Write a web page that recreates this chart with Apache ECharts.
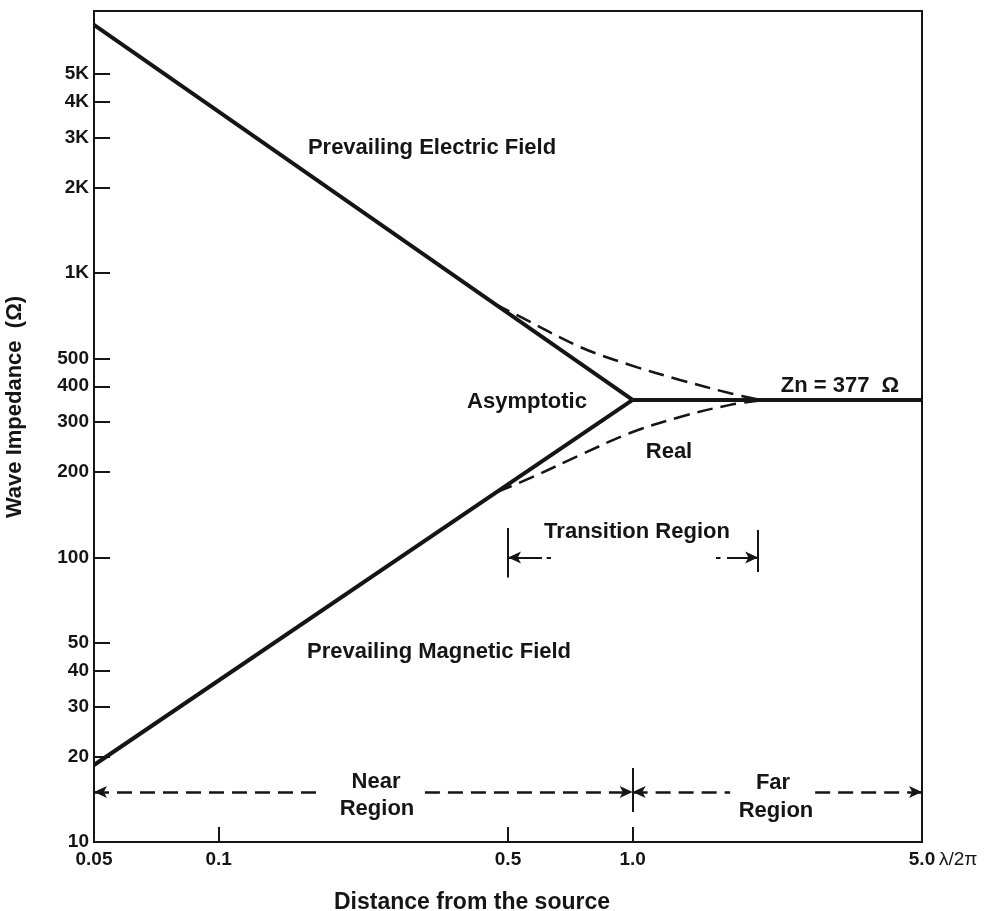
<!DOCTYPE html>
<html><head><meta charset="utf-8">
<script src="https://cdn.jsdelivr.net/npm/echarts@6/dist/echarts.min.js"></script>
<style>html,body{margin:0;padding:0;background:#fff}#c{width:990px;height:911px}</style>
</head><body><div id="c"></div>
<script>
// ---- axis ticks / labels ----
const xTickValues = [0.05, 0.1, 0.5, 1.0, 5.0];
const xTickLabels = ['0.05', '0.1', '0.5', '1.0', '5.0'];
const xTickMarks = [0.1, 0.5, 1.0];
const yTickValues = [10, 20, 30, 40, 50, 100, 200, 300, 400, 500, 1000, 2000, 3000, 4000, 5000];
const yTickLabels = ['10', '20', '30', '40', '50', '100', '200', '300', '400', '500', '1K', '2K', '3K', '4K', '5K'];
const yTickMarks = [20, 30, 40, 50, 100, 200, 300, 400, 500, 1000, 2000, 3000, 4000, 5000];

// ---- series (x = distance in λ/2π, y = wave impedance in Ω) ----
const electricAsymptote = [[0.05, 7450], [1.0, 358]];
const magneticAsymptote = [[0.05, 18.65], [1.0, 358]];
const farFieldImpedance = [[1.0, 358], [5.0, 358]];
const realElectric = [[0.465, 778], [0.526, 711], [0.746, 550], [0.986, 475], [1.302, 421], [1.72, 378], [2.03, 358]];
const realMagnetic = [[0.47, 170], [0.565, 190], [0.746, 229], [0.986, 274], [1.302, 312], [1.72, 344], [2.09, 358]];

// ---- annotation anchors (data coordinates) ----
const regionArrowY = 15;
const nearSegments = [[0.05, 0.176], [0.315, 1.0]];
const farSegments = [[1.0, 1.72], [2.76, 5.0]];
const regionDivider = [1.0, 12.75, 18.2];
const transitionBars = [[0.5, 85, 127], [2.01, 89, 125]];
const transitionArrowY = 100;
const transitionLeft = [[0.5, 0.604], [0.62, 0.635]];
const transitionRight = [[1.59, 1.63], [1.69, 2.01]];

function lookup(vals, labels) {
  return function (v) {
    for (let i = 0; i < vals.length; i++) {
      if (Math.abs(Math.log10(v) - Math.log10(vals[i])) < 1e-6) return labels[i];
    }
    return '';
  };
}

const INK = '#151515';
const dashedStyle = { color: INK, width: 2.5, type: [15, 8] };
const solidThin = { color: INK, width: 2, type: 'solid' };

function seg(a, b, s1, s2, style) {
  return [
    { coord: a, symbol: s1, lineStyle: style },
    { coord: b, symbol: s2, lineStyle: style }
  ];
}

const markData = [
  seg([nearSegments[0][0], regionArrowY], [nearSegments[0][1], regionArrowY], 'arrow', 'none', dashedStyle),
  seg([nearSegments[1][0], regionArrowY], [nearSegments[1][1], regionArrowY], 'none', 'arrow', dashedStyle),
  seg([farSegments[0][0], regionArrowY], [farSegments[0][1], regionArrowY], 'arrow', 'none', dashedStyle),
  seg([farSegments[1][0], regionArrowY], [farSegments[1][1], regionArrowY], 'none', 'arrow', dashedStyle),
  seg([regionDivider[0], regionDivider[1]], [regionDivider[0], regionDivider[2]], 'none', 'none', solidThin),
  seg([transitionBars[0][0], transitionBars[0][1]], [transitionBars[0][0], transitionBars[0][2]], 'none', 'none', solidThin),
  seg([transitionBars[1][0], transitionBars[1][1]], [transitionBars[1][0], transitionBars[1][2]], 'none', 'none', solidThin),
  seg([transitionLeft[0][0], transitionArrowY], [transitionLeft[0][1], transitionArrowY], 'arrow', 'none', solidThin),
  seg([transitionLeft[1][0], transitionArrowY], [transitionLeft[1][1], transitionArrowY], 'none', 'none', solidThin),
  seg([transitionRight[0][0], transitionArrowY], [transitionRight[0][1], transitionArrowY], 'none', 'none', solidThin),
  seg([transitionRight[1][0], transitionArrowY], [transitionRight[1][1], transitionArrowY], 'none', 'arrow', solidThin)
];

const FONT = '"Liberation Sans", Arial, Helvetica, sans-serif';
function txt(t, x, y, size, extra) {
  return Object.assign({
    type: 'text', x: x, y: y, z: 100, silent: true,
    style: {
      text: t, fill: INK, font: 'bold ' + size + 'px ' + FONT,
      align: 'center', verticalAlign: 'middle', textAlign: 'center', textVerticalAlign: 'middle'
    }
  }, extra || {});
}

const chart = echarts.init(document.getElementById('c'), null, { renderer: 'canvas' });
chart.setOption({
  animation: false,
  backgroundColor: '#fff',
  grid: { left: 94, top: 11, right: 68, bottom: 69, show: true, borderColor: INK, borderWidth: 2, backgroundColor: 'transparent' },
  xAxis: {
    type: 'log', logBase: 10, min: 0.05, max: 5,
    axisLine: { show: true, lineStyle: { color: INK, width: 2 } },
    axisTick: { show: true, inside: true, length: 15, customValues: xTickMarks, lineStyle: { color: INK, width: 2 } },
    axisLabel: { customValues: xTickValues, formatter: lookup(xTickValues, xTickLabels), color: INK, fontSize: 19, fontWeight: 'bold', fontFamily: FONT, margin: 8 },
    splitLine: { show: false }, minorTick: { show: false }
  },
  yAxis: {
    type: 'log', logBase: 10, min: 10, max: 8340,
    axisLine: { show: true, lineStyle: { color: INK, width: 2 } },
    axisTick: { show: true, inside: true, length: 16, customValues: yTickMarks, lineStyle: { color: INK, width: 2 } },
    axisLabel: { customValues: yTickValues, formatter: lookup(yTickValues, yTickLabels), color: INK, fontSize: 19, fontWeight: 'bold', fontFamily: FONT, margin: 5 },
    splitLine: { show: false }, minorTick: { show: false }
  },
  series: [
    { name: 'Electric asymptote', type: 'line', data: electricAsymptote, symbol: 'none', lineStyle: { color: INK, width: 4 }, z: 3 },
    { name: 'Magnetic asymptote', type: 'line', data: magneticAsymptote, symbol: 'none', lineStyle: { color: INK, width: 4 }, z: 3 },
    { name: 'Far field', type: 'line', data: farFieldImpedance, symbol: 'none', lineStyle: { color: INK, width: 4 }, z: 3,
      markLine: { silent: true, animation: false, symbolSize: [9, 13], label: { show: false }, data: markData } },
    { name: 'Real (electric)', type: 'line', data: realElectric, symbol: 'none', smooth: 0.35, lineStyle: { color: INK, width: 2.5, type: [16, 8] }, z: 2 },
    { name: 'Real (magnetic)', type: 'line', data: realMagnetic, symbol: 'none', smooth: 0.35, lineStyle: { color: INK, width: 2.5, type: [16, 8] }, z: 2 }
  ],
  graphic: [
    txt('Prevailing Electric Field', 432, 148, 22),
    txt('Asymptotic', 527, 402, 22),
    txt('Real', 669, 452, 22),
    txt('Zn = 377  Ω', 840, 386, 22),
    txt('Transition Region', 637, 532, 22),
    txt('Prevailing Magnetic Field', 439, 652, 22),
    txt('Near', 376, 782, 22),
    txt('Region', 377, 809, 22),
    txt('Far', 773, 783, 22),
    txt('Region', 776, 811, 22),
    txt('Distance from the source', 472, 903, 23),
    txt('Wave Impedance  (Ω)', 15, 407, 22, { rotation: Math.PI / 2 }),
    { type: 'text', x: 939, y: 860, z: 100, silent: true,
      style: { text: 'λ/2π', fill: INK, font: '19px ' + FONT, align: 'left', verticalAlign: 'middle', textAlign: 'left', textVerticalAlign: 'middle' } }
  ]
});
</script>
</body></html>
